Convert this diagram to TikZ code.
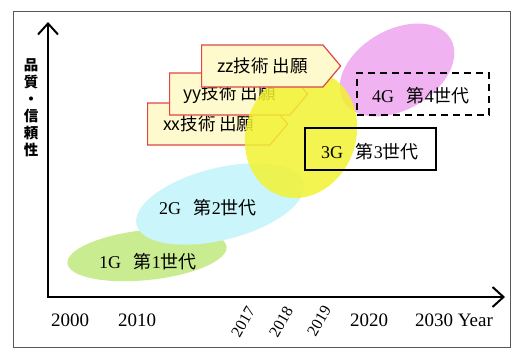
\documentclass[tikz,border=0pt]{standalone}
\usepackage{fontspec}
\setmainfont{Liberation Serif}
\newfontfamily\jp{Noto Sans CJK JP}
\usetikzlibrary{arrows.meta,shapes.symbols}
\definecolor{gone}{RGB}{202,236,145}
\definecolor{gtwo}{RGB}{202,245,250}
\definecolor{gthree}{RGB}{242,242,50}
\definecolor{gfour}{RGB}{240,178,240}
\definecolor{patred}{RGB}{222,70,70}
\definecolor{patfill}{RGB}{255,250,205}
\tikzset{
	axis/.style={line width=2pt, {Straight Barb[length=11pt,width=20pt]}-{Straight Barb[length=11pt,width=20pt]}},
	gen/.style={font=\fontsize{18}{20}\selectfont},
	genbox/.style={draw, line width=1.8pt, minimum width=131pt, minimum height=42pt, inner sep=0pt},
	patent/.style={signal, signal to=east, signal pointer angle=100, draw=patred, line width=1.2pt,
		fill=patfill, minimum height=42pt, inner sep=0pt, anchor=west, font=\jp\fontsize{17.5}{19}\selectfont},
	year/.style={font=\fontsize{19}{22}\selectfont},
	yearrot/.style={font=\fontsize{16}{17}\selectfont, rotate=60, inner sep=0pt},
}
\begin{document}
\begin{tikzpicture}[x=1pt,y=1pt]
		\useasboundingbox (0,0) rectangle (524,360);
		\draw[gray!70!black, line width=1pt] (13,13) rectangle (510,349);
		% generations
		\fill[gone, rotate around={6:(147,105)}] (147,105) ellipse [x radius=80, y radius=25];
		\fill[gtwo, rotate around={14:(220,156)}] (220,156) ellipse [x radius=86, y radius=36];
		\fill[gfour, rotate around={30:(397,290)}] (397,290) ellipse [x radius=62, y radius=40];
		% patents
		\node[patent, minimum width=140pt] (xx) at (147,236) {xx技術 出願};
		\node[patent, minimum width=138pt] (yy) at (169,266) {yy技術 出願};
		\fill[gthree, opacity=0.85, rotate around={-19:(301,226)}] (301,226) ellipse [x radius=55, y radius=65];
		\node[patent, minimum width=139pt] (zz) at (201,294) {zz技術 出願};
		\node[genbox, dashed, dash pattern=on 7pt off 5pt, minimum width=132pt] (g4box) at (423,266) {};
		\node[genbox] (g3box) at (370.5,211) {};
		\node[gen] (g1) at (148,98) {1G\hspace{0.7em}{\jp 第}1{\jp 世代}};
		\node[gen] (g2) at (208,152) {2G\hspace{0.7em}{\jp 第}2{\jp 世代}};
		\node[gen] (g3) at (370,208) {3G\hspace{0.7em}{\jp 第}3{\jp 世代}};
		\node[gen] (g4) at (421,264) {4G\hspace{0.7em}{\jp 第}4{\jp 世代}};
		% axes
		\coordinate (O) at (48,63);
		\coordinate (ytop) at (48,338);
		\coordinate (xend) at (505,63);
		\draw[axis] (ytop) -- (O) -- (xend);
		\node (quality) at (31,252)[font=\jp\bfseries\fontsize{14.5}{17}\selectfont, align=center]{品\\質\\・\\信\\頼\\性};
		\node[year] (y2000) at (70,40) {2000};
		\node[year] (y2010) at (137,40) {2010};
		\node[yearrot] (y2017) at (243,38) {2017};
		\node[yearrot] (y2018) at (281,38) {2018};
		\node[yearrot] (y2019) at (319,39) {2019};
		\node[year] (y2020) at (369,40) {2020};
		\node[year] (y2030) at (454,40) {2030 Year};
\end{tikzpicture}
\end{document}
